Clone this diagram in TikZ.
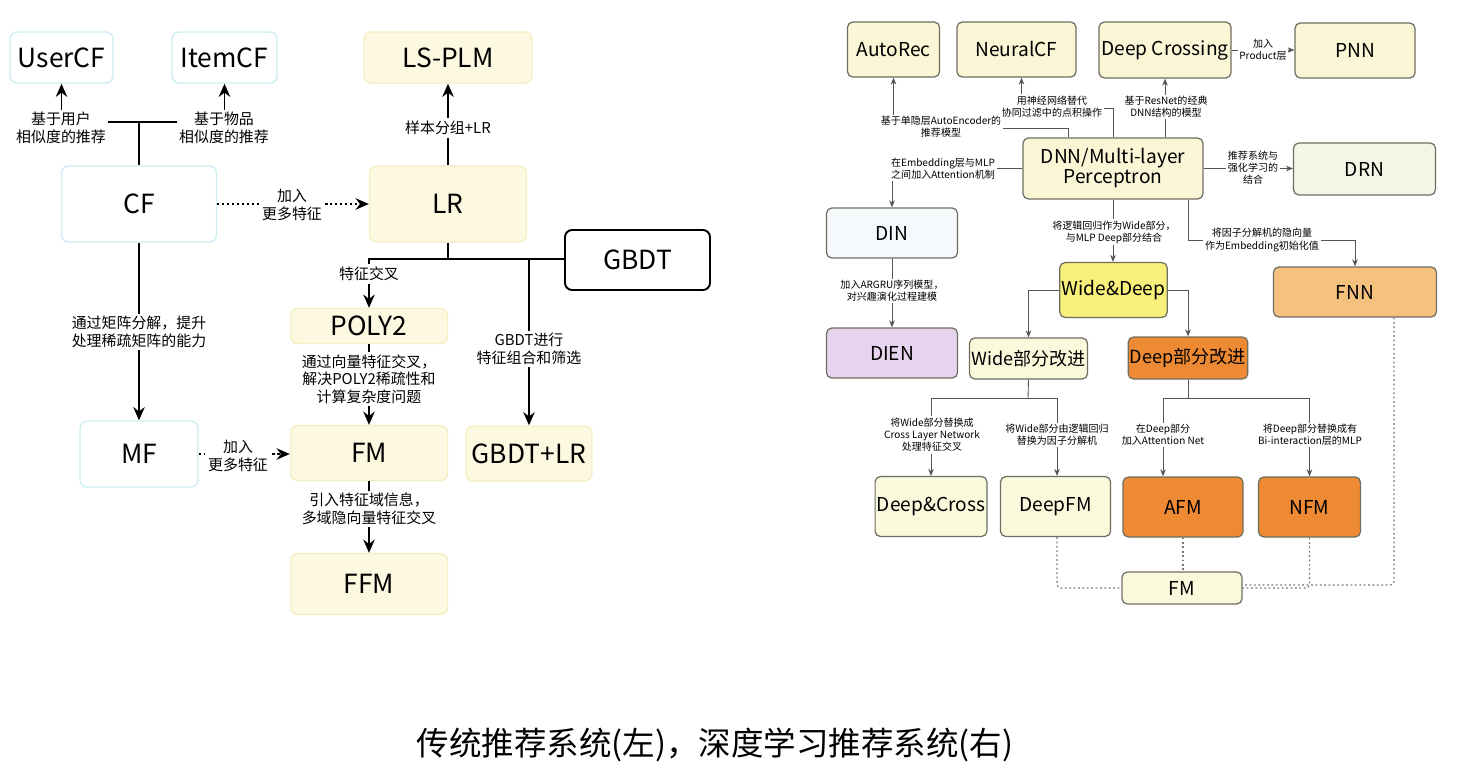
\documentclass[tikz,border=0pt]{standalone}
\usepackage{fontspec}
\setmainfont{Noto Sans CJK SC}
\usepackage{tikz}
\usetikzlibrary{arrows.meta}
\usetikzlibrary{calc}

\definecolor{cyanline}{HTML}{CDEDF2}
\definecolor{paleyel}{HTML}{FCF9E0}
\definecolor{yelline}{HTML}{F5EFC4}
\definecolor{boxline}{HTML}{6E6E60}
\definecolor{boxfill}{HTML}{FAF6D6}
\definecolor{drnfill}{HTML}{F3F6E4}
\definecolor{dinfill}{HTML}{F5F9FB}
\definecolor{dienfill}{HTML}{E8D3EE}
\definecolor{wdfill}{HTML}{F8F07A}
\definecolor{orgfill}{HTML}{EE8A33}
\definecolor{fnnfill}{HTML}{F5C27E}
\definecolor{ltfill}{HTML}{FBF9DC}
\definecolor{rgray}{HTML}{555555}

\begin{document}
\begin{tikzpicture}[x=0.02cm,y=-0.02cm,
	lbox/.style={rectangle,rounded corners=4pt,draw=cyanline,line width=0.8pt,fill=white,font=\fontsize{15}{18}\selectfont,inner sep=1pt},
	ybox/.style={lbox,draw=yelline,fill=paleyel},
	gbox/.style={lbox,draw=black,line width=1.1pt},
	rbox/.style={rectangle,rounded corners=3pt,draw=boxline,line width=0.7pt,fill=boxfill,font=\fontsize{10.9}{11.4}\selectfont,inner sep=1pt,align=center},
	ltxt/.style={fill=white,align=center,inner sep=1.5pt,font=\fontsize{8.5}{10}\selectfont},
	rtxt/.style={fill=white,align=center,inner sep=1pt,font=\fontsize{5.7}{6.9}\selectfont},
	lline/.style={line width=1.1pt},
	larr/.style={lline,-{Stealth[length=7.5pt,width=6.5pt]}},
	ldot/.style={larr,dash pattern=on 1.2pt off 1.6pt},
	rline/.style={draw=rgray,line width=0.5pt},
	rarr/.style={rline,-{Stealth[length=4pt,width=3.2pt]}},
	rdot/.style={draw=rgray!80,line width=0.6pt,dash pattern=on 1pt off 1.5pt,rounded corners=2pt}]
	\useasboundingbox (0,0) rectangle (1477,771);
	\fill[white] (0,0) rectangle (1477,771);

	% Place nodes (left)
	\node[lbox,minimum width=2.06cm,minimum height=1.02cm] (UserCF) at (61.5,57.5) {UserCF};
	\node[lbox,minimum width=2.1cm,minimum height=1.02cm] (ItemCF) at (224.5,57.5) {ItemCF};
	\node[ybox,minimum width=3.36cm,minimum height=1.02cm] (LSPLM) at (448,57.5) {LS-PLM};
	\node[lbox,minimum width=3.1cm,minimum height=1.52cm] (CF) at (139,204) {CF};
	\node[ybox,minimum width=3.14cm,minimum height=1.52cm] (LR) at (448,204) {LR};
	\node[gbox,minimum width=2.9cm,minimum height=1.2cm] (GBDT) at (637.5,260) {GBDT};
	\node[ybox,minimum width=3.14cm,minimum height=0.7cm] (POLY2) at (369,326) {POLY2};
	\node[lbox,minimum width=2.36cm,minimum height=1.32cm] (MF) at (139,454) {MF};
	\node[ybox,minimum width=3.14cm,minimum height=1.1cm] (FM) at (369,453) {FM};
	\node[ybox,minimum width=2.52cm,minimum height=1.1cm] (GBDTLR) at (529,453.5) {GBDT+LR};
	\node[ybox,minimum width=3.14cm,minimum height=1.22cm] (FFM) at (369,584) {FFM};

	% Place nodes (right)
	\node[rbox,minimum width=1.84cm,minimum height=1.1cm] (AutoRec) at (893.5,49.5) {AutoRec};
	\node[rbox,minimum width=2.38cm,minimum height=1.1cm] (NeuralCF) at (1016.5,49.5) {NeuralCF};
	\node[rbox,minimum width=2.64cm,minimum height=1.12cm] (DeepCrossing) at (1165,50) {Deep Crossing};
	\node[rbox,minimum width=2.4cm,minimum height=1.1cm] (PNN) at (1355,50.5) {PNN};
	\node[rbox,minimum width=3.6cm,minimum height=1.22cm] (DNN) at (1113,168.5) {DNN/Multi-layer\\Perceptron};
	\node[rbox,fill=drnfill,minimum width=2.84cm,minimum height=1.04cm] (DRN) at (1364.5,169) {DRN};
	\node[rbox,fill=dinfill,minimum width=2.62cm,minimum height=1cm] (DIN) at (892,233) {DIN};
	\node[rbox,fill=dienfill,minimum width=2.62cm,minimum height=1cm] (DIEN) at (892,353) {DIEN};
	\node[rbox,fill=wdfill,minimum width=2.02cm,minimum height=1.1cm] (WideDeep) at (1113.5,290) {Wide\&Deep};
	\node[rbox,fill=fnnfill,minimum width=3.26cm,minimum height=1cm] (FNN) at (1355,292) {FNN};
	\node[rbox,fill=ltfill,minimum width=2.26cm,minimum height=0.82cm,font=\fontsize{10.3}{11}\selectfont] (WideImp) at (1028.5,358.5) {Wide部分改进};
	\node[rbox,fill=orgfill,minimum width=2.18cm,minimum height=0.84cm,font=\fontsize{10.3}{11}\selectfont] (DeepImp) at (1188,358) {Deep部分改进};
	\node[rbox,fill=ltfill,minimum width=2.18cm,minimum height=1.2cm] (DeepCross) at (931,506.5) {Deep\&Cross};
	\node[rbox,fill=ltfill,minimum width=2.2cm,minimum height=1.2cm] (DeepFM) at (1055.5,506.5) {DeepFM};
	\node[rbox,fill=orgfill,minimum width=2.4cm,minimum height=1.2cm] (AFM) at (1183,507) {AFM};
	\node[rbox,fill=orgfill,minimum width=2.04cm,minimum height=1.2cm] (NFM) at (1309.5,507) {NFM};
	\node[rbox,fill=ltfill,minimum width=2.4cm,minimum height=0.64cm] (FMr) at (1182,588) {FM};

	% Connectors (left)
	\coordinate (cfj) at (139,122);
	\coordinate (lrj) at (448,259);
	\draw[lline] (CF.north) -- (cfj);
	\draw[larr] (cfj) -| (UserCF.south);
	\draw[larr] (cfj) -| (ItemCF.south);
	\draw[larr] (LR.north) -- (LSPLM.south);
	\draw[ldot] (CF.east) -- (LR.west);
	\draw[lline] (LR.south) -- (lrj);
	\draw[lline] (lrj) -- (lrj -| GBDT.west);
	\draw[larr] (lrj) -| (POLY2.north);
	\draw[larr] (lrj -| GBDTLR.north) -- (GBDTLR.north);
	\draw[larr] (CF.south) -- (MF.north);
	\draw[larr] (POLY2.south) -- (FM.north);
	\draw[ldot] (MF.east) -- (MF.east -| FM.west);
	\draw[larr] (FM.south) -- (FFM.north);

	% Connectors (right)
	\coordinate (autoj) at (1068,128);
	\coordinate (ncfj) at (1113,108);
	\coordinate (fnnj) at (1188,240);
	\coordinate (widej) at (1028,398);
	\coordinate (deepj) at (1188,398);
	\coordinate (fnnd) at (1394,585);
	\draw[rarr] (autoj |- DNN.north) -- (autoj) -| (AutoRec.south);
	\draw[rarr] (DNN.north) -- (ncfj) -| ($(NeuralCF.south)+(5,0)$);
	\draw[rarr] (DeepCrossing.south |- DNN.north) -- (DeepCrossing.south);
	\draw[rarr] (DeepCrossing.east) -- (DeepCrossing.east -| PNN.west);
	\draw[rarr] (DNN.east) -- (DNN.east -| DRN.west);
	\draw[rarr] (DNN.west) -| (DIN.north);
	\draw[rarr] (DIN.south) -- (DIEN.north);
	\draw[rarr] (DNN.south) -- (DNN.south |- WideDeep.north);
	\draw[rarr] (fnnj |- DNN.south) -- (fnnj) -| (FNN.north);
	\draw[rarr] (WideDeep.west) -| (WideImp.north);
	\draw[rarr] (WideDeep.east) -| (DeepImp.north);
	\draw[rline] (WideImp.south) -- (widej);
	\draw[rarr] (widej) -| (DeepCross.north);
	\draw[rarr] (widej) -| ($(DeepFM.north)+(1.5,0)$);
	\draw[rline] (DeepImp.south) -- (deepj);
	\draw[rarr] (deepj) -| ($(AFM.north)+(-20,0)$);
	\draw[rarr] (deepj) -| (NFM.north);
	\draw[rdot] ($(DeepFM.south)+(1.5,0)$) |- (FMr.west);
	\draw[rdot] (AFM.south) -- (AFM.south |- FMr.north);
	\draw[rdot] (NFM.south) |- (FMr.east);
	\draw[rdot] (fnnd |- FNN.south) -- (fnnd) -- (fnnd -| FMr.east);

	% Labels (left)
	\node[ltxt] (lbUser) at (61,128) {基于用户\\相似度的推荐};
	\node[ltxt] (lbItem) at (224,128) {基于物品\\相似度的推荐};
	\node[ltxt] (lbPlm) at (448,128) {样本分组+LR};
	\node[ltxt] (lbMore) at (292,205) {加入\\更多特征};
	\node[ltxt] (lbCross) at (369,274) {特征交叉};
	\node[ltxt] (lbMF) at (139,332) {通过矩阵分解，提升\\处理稀疏矩阵的能力};
	\node[ltxt] (lbGbdt) at (529,349) {GBDT进行\\特征组合和筛选};
	\node[ltxt] (lbPoly) at (369,379) {通过向量特征交叉，\\解决POLY2稀疏性和\\计算复杂度问题};
	\node[ltxt] (lbMore2) at (238,456) {加入\\更多特征};
	\node[ltxt] (lbFfm) at (369,509) {引入特征域信息，\\多域隐向量特征交叉};

	% Labels (right)
	\node[rtxt] (lbAuto) at (941,127) {基于单隐层AutoEncoder的\\推荐模型};
	\node[rtxt] (lbNcf) at (1052,107) {用神经网络替代\\协同过滤中的点积操作};
	\node[rtxt] (lbDc) at (1166,107) {基于ResNet的经典\\DNN结构的模型};
	\node[rtxt] (lbPnn) at (1263,50) {加入\\Product层};
	\node[rtxt] (lbDrn) at (1253,168) {推荐系统与\\强化学习的\\结合};
	\node[rtxt] (lbDin) at (943,169) {在Embedding层与MLP\\之间加入Attention机制};
	\node[rtxt] (lbDien) at (892,291) {加入ARGRU序列模型，\\对兴趣演化过程建模};
	\node[rtxt] (lbWd) at (1114,232) {将逻辑回归作为Wide部分，\\与MLP Deep部分结合};
	\node[rtxt] (lbFnn) at (1262,240) {将因子分解机的隐向量\\作为Embedding初始化值};
	\node[rtxt] (lbDcr) at (932,435) {将Wide部分替换成\\Cross Layer Network\\处理特征交叉};
	\node[rtxt] (lbDfm) at (1057,435) {将Wide部分由逻辑回归\\替换为因子分解机};
	\node[rtxt] (lbAfm) at (1163,435) {在Deep部分\\加入Attention Net};
	\node[rtxt] (lbNfm) at (1310,435) {将Deep部分替换成有\\Bi-interaction层的MLP};

	% Caption
	\node[font=\fontsize{18.5}{20}\selectfont] (caption) at (715,745) {传统推荐系统(左)，深度学习推荐系统(右)};
\end{tikzpicture}
\end{document}
